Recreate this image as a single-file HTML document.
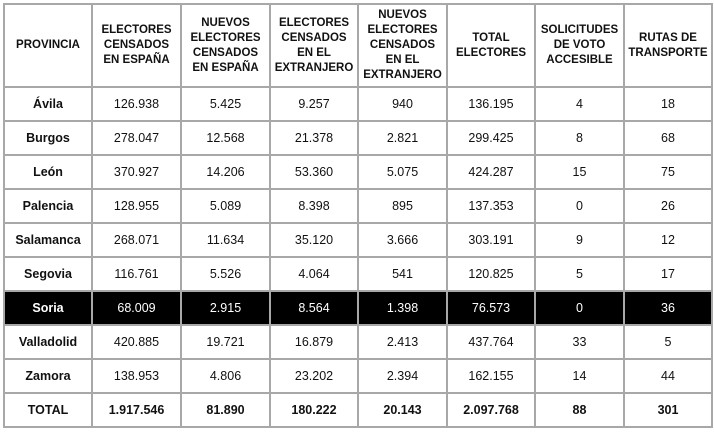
<!DOCTYPE html>
<html><head><meta charset="utf-8"><style>
body{margin:0;background:#fff;width:714px;height:434px;overflow:hidden}
table{position:absolute;left:3px;top:3px;border-collapse:collapse;table-layout:fixed;font-family:"Liberation Sans",sans-serif;color:#111}
td{border:2px solid #a8a8a8;text-align:center;padding:0;font-size:12.5px;height:32px}
tr.h td{font-weight:bold;font-size:11.5px;line-height:15px;height:81px}
td:first-child{font-weight:bold}
tr.s td{background:#000;color:#fff}
tr.t td{font-weight:bold}
</style></head><body>
<table>
<colgroup><col style="width:88px"><col style="width:89px"><col style="width:89px"><col style="width:88px"><col style="width:89px"><col style="width:88px"><col style="width:89px"><col style="width:88px"></colgroup>
<tr class="h"><td>PROVINCIA</td><td>ELECTORES<br>CENSADOS<br>EN ESPAÑA</td><td>NUEVOS<br>ELECTORES<br>CENSADOS<br>EN ESPAÑA</td><td>ELECTORES<br>CENSADOS<br>EN EL<br>EXTRANJERO</td><td>NUEVOS<br>ELECTORES<br>CENSADOS<br>EN EL<br>EXTRANJERO</td><td>TOTAL<br>ELECTORES</td><td>SOLICITUDES<br>DE VOTO<br>ACCESIBLE</td><td>RUTAS DE<br>TRANSPORTE</td></tr>
<tr><td>Ávila</td><td>126.938</td><td>5.425</td><td>9.257</td><td>940</td><td>136.195</td><td>4</td><td>18</td></tr>
<tr><td>Burgos</td><td>278.047</td><td>12.568</td><td>21.378</td><td>2.821</td><td>299.425</td><td>8</td><td>68</td></tr>
<tr><td>León</td><td>370.927</td><td>14.206</td><td>53.360</td><td>5.075</td><td>424.287</td><td>15</td><td>75</td></tr>
<tr><td>Palencia</td><td>128.955</td><td>5.089</td><td>8.398</td><td>895</td><td>137.353</td><td>0</td><td>26</td></tr>
<tr><td>Salamanca</td><td>268.071</td><td>11.634</td><td>35.120</td><td>3.666</td><td>303.191</td><td>9</td><td>12</td></tr>
<tr><td>Segovia</td><td>116.761</td><td>5.526</td><td>4.064</td><td>541</td><td>120.825</td><td>5</td><td>17</td></tr>
<tr class="s"><td>Soria</td><td>68.009</td><td>2.915</td><td>8.564</td><td>1.398</td><td>76.573</td><td>0</td><td>36</td></tr>
<tr><td>Valladolid</td><td>420.885</td><td>19.721</td><td>16.879</td><td>2.413</td><td>437.764</td><td>33</td><td>5</td></tr>
<tr><td>Zamora</td><td>138.953</td><td>4.806</td><td>23.202</td><td>2.394</td><td>162.155</td><td>14</td><td>44</td></tr>
<tr class="t"><td>TOTAL</td><td>1.917.546</td><td>81.890</td><td>180.222</td><td>20.143</td><td>2.097.768</td><td>88</td><td>301</td></tr>
</table>
</body></html>
